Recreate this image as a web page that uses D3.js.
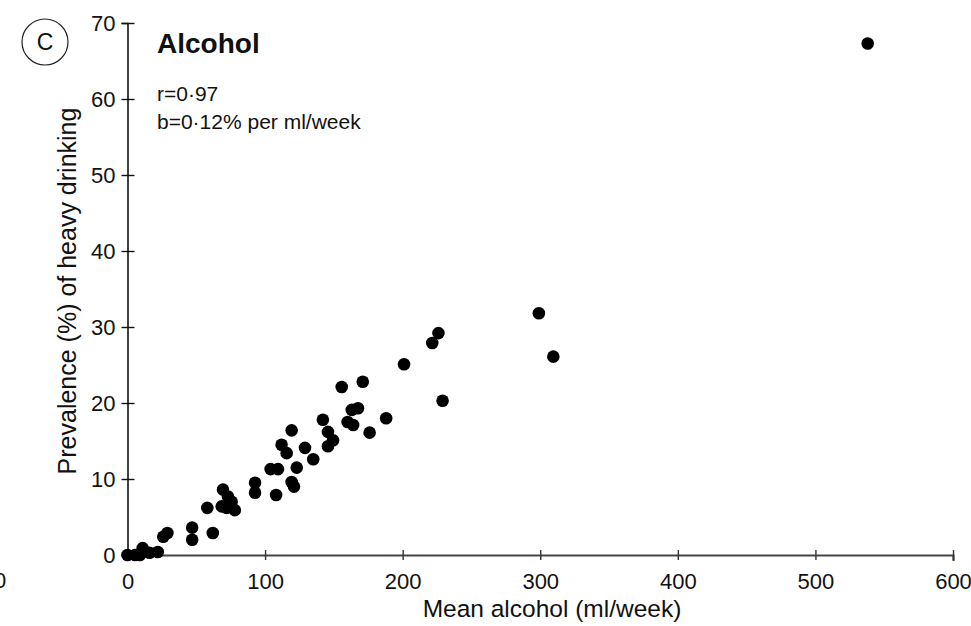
<!DOCTYPE html>
<html><head><meta charset="utf-8">
<script src="https://cdn.jsdelivr.net/npm/d3@7"></script>
<style>body{margin:0;background:#fff}svg{display:block}text{font-family:"Liberation Sans",Arial,Helvetica,sans-serif;fill:#111}</style>
</head><body>
<script>
const xTicks = [0,100,200,300,400,500,600];
const yTicks = [0,10,20,30,40,50,60,70];
const alcohol = [0,5.5,9,11,16,22,26,29,47,47,62,58,68.5,69.4,73,72,75.7,78,92.7,92.7,108,104,109.4,119.3,121,123,112,115.7,119.3,129,135,142,145.7,149.4,145.7,155.7,171,163,167.5,160,164,176,188,201,226,221.5,229,299,309.5,538];
const heavy   = [0,0,0,0.9,0.3,0.4,2.4,2.9,3.6,2.0,2.9,6.2,6.4,8.6,7.7,6.2,7.0,5.9,9.5,8.2,7.9,11.3,11.3,9.6,9.0,11.5,14.5,13.4,16.4,14.1,12.6,17.8,16.2,15.1,14.3,22.1,22.8,19.1,19.3,17.5,17.1,16.1,18.0,25.1,29.2,27.9,20.3,31.8,26.1,67.3];

const W=971,H=626;
const svg=d3.select("body").append("svg").attr("width",W).attr("height",H);
const x=d3.scaleLinear().domain([0,600]).range([127.5,953]);
const y=d3.scaleLinear().domain([0,70]).range([555,23]);

// y axis
const ya=svg.append("g").attr("transform",`translate(${x(0)},0)`)
  .call(d3.axisLeft(y).tickValues(yTicks).tickSize(6).tickPadding(6).tickFormat(d3.format("d")));
ya.select(".domain").attr("stroke","#111").attr("stroke-width",1.6);
ya.selectAll(".tick line").attr("stroke","#111").attr("stroke-width",1.4).attr("x2",-6).attr("x1",7);
ya.selectAll(".tick text").attr("font-size",22).attr("font-family","Liberation Sans, Arial, sans-serif").attr("fill","#111");

// x axis
const xa=svg.append("g").attr("transform",`translate(0,${y(0)})`)
  .call(d3.axisBottom(x).tickValues(xTicks).tickSize(6).tickPadding(12).tickFormat(d3.format("d")));
xa.select(".domain").attr("stroke","#444").attr("stroke-width",2.2);
xa.selectAll(".tick line").attr("stroke","#333").attr("stroke-width",1.4).attr("y1",-5).attr("y2",5);
xa.selectAll(".tick text").attr("font-size",22).attr("font-family","Liberation Sans, Arial, sans-serif").attr("fill","#111");
xa.selectAll(".tick").filter(d=>d===0).select("line").remove();

// points
svg.append("g").selectAll("circle").data(alcohol.map((a,i)=>[a,heavy[i]])).join("circle")
  .attr("cx",d=>x(d[0])).attr("cy",d=>y(d[1])).attr("r",6.3).attr("fill","#000");

// labels
svg.append("text").attr("x",552).attr("y",617).attr("text-anchor","middle").attr("font-size",24.5).text("Mean alcohol (ml/week)");
svg.append("text").attr("transform","translate(76,291) rotate(-90)").attr("text-anchor","middle").attr("font-size",25).text("Prevalence (%) of heavy drinking");
svg.append("text").attr("x",157).attr("y",53).attr("font-size",28).attr("font-weight","bold").text("Alcohol");
svg.append("text").attr("x",157).attr("y",101).attr("font-size",21).text("r=0·97");
svg.append("text").attr("x",157).attr("y",129).attr("font-size",21).text("b=0·12% per ml/week");
svg.append("circle").attr("cx",45).attr("cy",42).attr("r",23).attr("fill","none").attr("stroke","#222").attr("stroke-width",1.2);
svg.append("text").attr("x",45).attr("y",50).attr("text-anchor","middle").attr("font-size",23).text("C");
// cropped label from neighbouring panel
svg.append("text").attr("x",-6).attr("y",588).attr("font-size",22).text("0");
</script>
</body></html>
